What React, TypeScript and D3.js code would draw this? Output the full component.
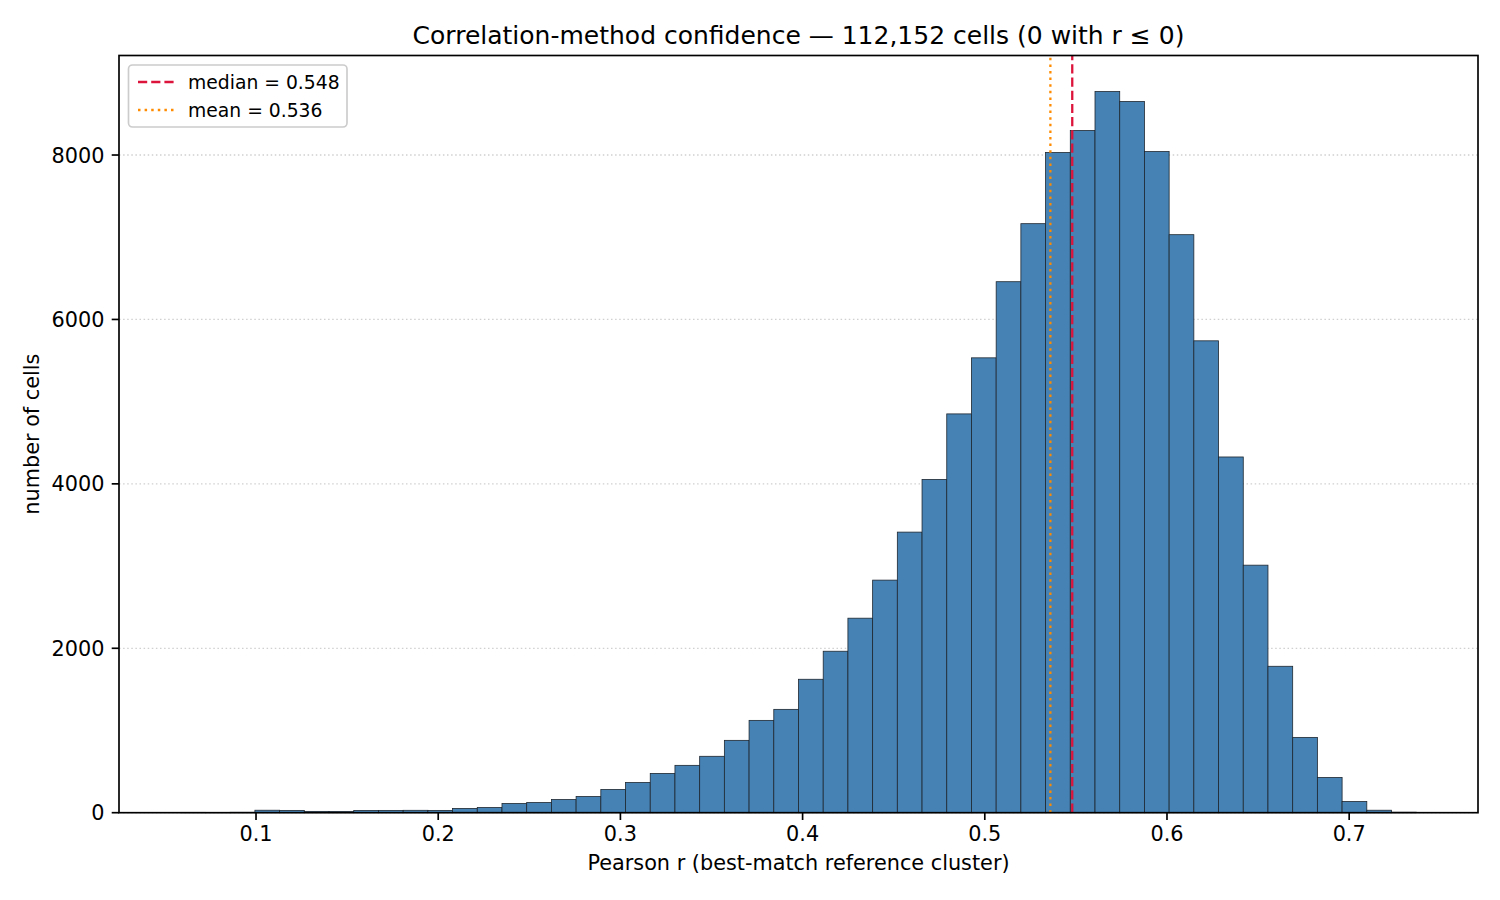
import React from "react";
import * as d3 from "d3";

// ---- data ----
const binMin = 0.0587;
const binMax = 0.7368;
const counts = [
  4, 2, 5, 30, 28, 16, 15, 27, 28, 29,
  28, 52, 63, 112, 124, 160, 197, 283, 368, 478,
  576, 686, 880, 1123, 1257, 1623, 1964, 2366, 2829, 3413,
  4054, 4851, 5533, 6459, 7165, 8031, 8298, 8772, 8651, 8042,
  7031, 5740, 4327, 3011, 1781, 916, 429, 136, 30, 6,
];
const xTicks = [0.1, 0.2, 0.3, 0.4, 0.5, 0.6, 0.7];
const yTicks = [0, 2000, 4000, 6000, 8000];
const median = 0.548;
const mean = 0.536;
const titleText = "Correlation-method confidence — 112,152 cells (0 with r ≤ 0)";
const xLabel = "Pearson r (best-match reference cluster)";
const yLabel = "number of cells";
const legendItems = [
  { label: "median = 0.548", color: "#dc143c", dash: "9.2,4" },
  { label: "mean = 0.536", color: "#ff8c00", dash: "2.5,4.1" },
];

const W = 1500;
const H = 900;
const L = 119;
const R = 1478;
const T = 55.5;
const B = 812.7;
const FONT = "DejaVu Sans, sans-serif";

export default function App() {
  const nb = counts.length;
  const bw = (binMax - binMin) / nb;
  const edges = d3.range(nb + 1).map((i) => binMin + i * bw);
  const span = binMax - binMin;
  const x = d3
    .scaleLinear()
    .domain([binMin - 0.05 * span, binMax + 0.05 * span])
    .range([L, R]);
  const yMax = (d3.max(counts) as number) * 1.05;
  const y = d3.scaleLinear().domain([0, yMax]).range([B, T]);

  return (
    <div style={{ position: "absolute", left: 0, top: 0 }}>
      <svg width={W} height={H} style={{ display: "block", background: "#fff" }} fontFamily={FONT}>
        <rect x={0} y={0} width={W} height={H} fill="#fff" />
        {/* grid */}
        {yTicks.map((t) => (
          <line
            key={"g" + t}
            x1={L}
            x2={R}
            y1={y(t)}
            y2={y(t)}
            stroke="#b0b0b0"
            strokeOpacity={0.6}
            strokeWidth={1.3}
            strokeDasharray="1.5,2.6"
          />
        ))}
        {/* bars */}
        {counts.map((c, i) => (
          <rect
            key={"b" + i}
            x={x(edges[i])}
            y={y(c)}
            width={x(edges[i + 1]) - x(edges[i])}
            height={B - y(c)}
            fill="#4682b4"
            stroke="#1e2730"
            strokeWidth={0.8}
          />
        ))}
        {/* reference lines */}
        <line x1={x(median)} x2={x(median)} y1={B} y2={T} stroke="#dc143c" strokeWidth={2.3} strokeDasharray="9.2,4" />
        <line x1={x(mean)} x2={x(mean)} y1={B} y2={T} stroke="#ff8c00" strokeWidth={2.3} strokeDasharray="2.5,4.1" />
        {/* spines */}
        <rect x={L} y={T} width={R - L} height={B - T} fill="none" stroke="#000" strokeWidth={1.67} />
        {/* x ticks */}
        {xTicks.map((t) => (
          <g key={"x" + t}>
            <line x1={x(t)} x2={x(t)} y1={B} y2={B + 7.3} stroke="#000" strokeWidth={1.67} />
            <text x={x(t)} y={841} textAnchor="middle" fontSize={20.8} fill="#000">
              {d3.format(".1f")(t)}
            </text>
          </g>
        ))}
        {/* y ticks */}
        {yTicks.map((t) => (
          <g key={"y" + t}>
            <line x1={L - 7.3} x2={L} y1={y(t)} y2={y(t)} stroke="#000" strokeWidth={1.67} />
            <text x={L - 14.6} y={y(t) + 7.5} textAnchor="end" fontSize={20.8} fill="#000">
              {String(t)}
            </text>
          </g>
        ))}
        {/* labels */}
        <text x={(L + R) / 2} y={870} textAnchor="middle" fontSize={20.8} fill="#000">
          {xLabel}
        </text>
        <text
          transform={`translate(39,${(T + B) / 2}) rotate(-90)`}
          textAnchor="middle"
          fontSize={20.8}
          fill="#000"
        >
          {yLabel}
        </text>
        <text x={(L + R) / 2} y={44} textAnchor="middle" fontSize={25} fill="#000">
          {titleText}
        </text>
        {/* legend */}
        <g>
          <rect x={128.5} y={65} width={218.5} height={62} rx={4} ry={4} fill="#fff" fillOpacity={0.8} stroke="#cccccc" strokeWidth={1.67} />
          {legendItems.map((it, i) => (
            <g key={"l" + i}>
              <line
                x1={138}
                x2={175}
                y1={82 + i * 28}
                y2={82 + i * 28}
                stroke={it.color}
                strokeWidth={2.3}
                strokeDasharray={it.dash}
              />
              <text x={188} y={82 + i * 28 + 6.8} fontSize={18.75} fill="#000">
                {it.label}
              </text>
            </g>
          ))}
        </g>
      </svg>
    </div>
  );
}
